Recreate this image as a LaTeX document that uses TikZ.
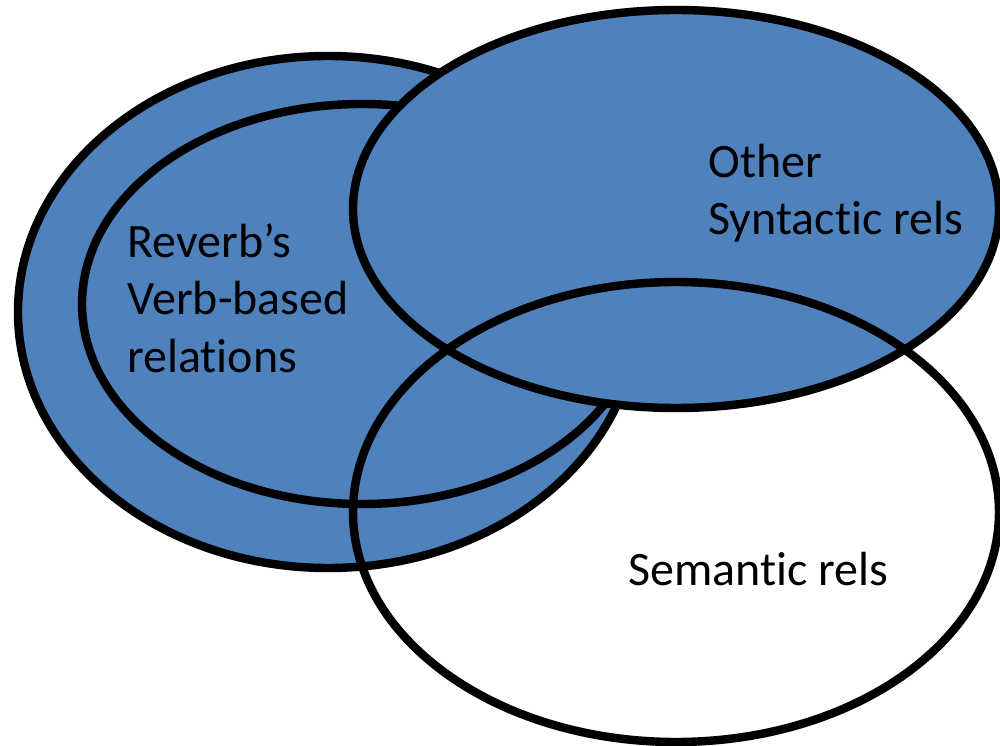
\documentclass[tikz,border=0pt]{standalone}
\usepackage{fontspec}
\setmainfont{Carlito}[Ligatures=NoCommon]
\definecolor{setblue}{RGB}{79,129,189}
\begin{document}
\begin{tikzpicture}[x=0.02cm, y=-0.02cm,
    setring/.style={line width=4.8pt, draw=black},
    setlabel/.style={font=\fontsize{27.3}{32.6}\selectfont, inner sep=0pt, align=left, text=black}]
  \useasboundingbox (0,0) rectangle (1000,746);
  \begin{scope}
    \clip (0,0) rectangle (1000,746);
    % outer set of verb-based relations
    \path[setring, fill=setblue] (328,312) ellipse [x radius=310, y radius=256];
    % inner set: Reverb's relations
    \path[setring, fill=setblue] (362,304) ellipse [x radius=280, y radius=200];
    % other syntactic relations
    \path[setring, fill=setblue] (676,209) ellipse [x radius=323, y radius=199];
    % semantic relations (outline only, on top)
    \path[setring] (676,512) ellipse [x radius=323, y radius=230];
  \end{scope}
  % multi-line labels are anchored at the baseline of their last line
  \node[setlabel, anchor=base west] (reverb) at (127,372) {Reverb’s\\Verb-based\\relations};
  \node[setlabel, anchor=base west] (other) at (708,235) {Other\\Syntactic rels};
  \node[setlabel, anchor=base west] (semantic) at (628,585) {Semantic rels};
\end{tikzpicture}
\end{document}
